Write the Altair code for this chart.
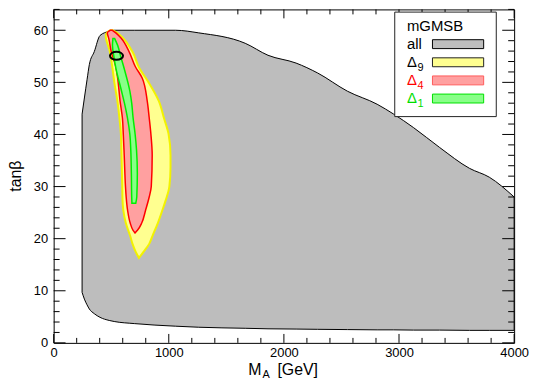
import altair as alt
import pandas as pd

# ---------------- data ----------------
# "all" region: lower / upper tan(beta) boundary versus M_A
all_x = [247, 267, 290, 310, 353, 403, 483, 526, 700, 1060, 1260, 1664, 1862,
         2106, 2293, 2552, 2810, 2954, 3127, 3353, 3612, 3784, 4000]
all_lo = [9.7, 8.4, 7.3, 6.5, 5.6, 4.9, 4.3, 4.1, 3.7, 3.2, 3.0, 2.8, 2.7,
          2.65, 2.6, 2.55, 2.5, 2.5, 2.45, 2.45, 2.4, 2.4, 2.4]
all_hi = [43.9, 47.0, 50.5, 53.4, 55.9, 59.0, 59.8, 60.0, 60.0, 60.0, 59.5, 57.5, 55.2,
          53.7, 51.8, 48.3, 45.8, 43.9, 41.3, 37.5, 33.5, 31.8, 28.0]

# Delta_9 region: left / right M_A boundary versus tan(beta)
d9_y = [16.3, 17.5, 19, 20.5, 23, 25.5, 27.5, 30, 33.7, 36, 40.1, 43, 46.4, 50, 52.7, 55.9, 59.0, 59.7, 60]
d9_l = [741, 712, 685, 665, 627, 605, 598, 596, 592, 589, 584, 572, 554, 527, 511, 488, 452, 470, 495]
d9_r = [741, 782, 830, 858, 905, 945, 975, 1005, 1015, 1015, 998, 960, 914, 825, 745, 684, 580, 540, 515]

# Delta_4 region
d4_y = [21.1, 21.6, 23, 25.5, 28, 30, 36, 40, 43.2, 46.4, 50.8, 53, 55.9, 58.5, 59.5, 60]
d4_l = [707, 690, 665, 642, 630, 624, 613, 605, 597, 577, 556, 540, 500, 478, 466, 490]
d4_r = [707, 728, 765, 799, 830, 848, 856, 845, 830, 813, 770, 710, 655, 585, 540, 510]

# Delta_1 region
d1_y = [26.8, 28, 32.5, 37, 40, 43.2, 46, 48.3, 52.7, 55, 57.1, 58.4]
d1_l = [680, 678, 675, 670, 662, 641, 615, 590, 541, 523, 511, 515]
d1_r = [713, 722, 727, 720, 708, 690, 678, 662, 612, 582, 556, 530]

# best point (ellipse marker)
best_x = [546]
best_y = [55.1]

# axis ticks
x_major = [0, 1000, 2000, 3000, 4000]
x_minor = [200, 400, 600, 800, 1200, 1400, 1600, 1800, 2200, 2400, 2600, 2800,
           3200, 3400, 3600, 3800]
y_major = [0, 10, 20, 30, 40, 50, 60]
y_minor = [2, 4, 6, 8, 12, 14, 16, 18, 22, 24, 26, 28, 32, 34, 36, 38,
           42, 44, 46, 48, 52, 54, 56, 58, 62, 64]

# legend
leg_title = "mGMSB"
leg_items = ["all", "Δ9", "Δ4", "Δ1"]
leg_main = ["all", "Δ", "Δ", "Δ"]
leg_sub = ["", "9", "4", "1"]
leg_text_color = ["#000000", "#000000", "#ff0000", "#00dd00"]

GRAY = "#bdbdbd"
YEL = "#ffff90"
PINK = "#ffa0a0"
GRN = "#88ff88"
leg_fill = [GRAY, YEL, PINK, GRN]
leg_stroke = ["#000000", "#222222", "#ff5a5a", "#00e000"]

x_title_main, x_title_sub, x_title_unit = "M", "A", "[GeV]"
y_title = "tanβ"

# ---------------- chart ----------------
W, H = 464, 336
FONT = "Liberation Sans"

xs = alt.Scale(domain=[0, 4000], nice=False, zero=False)
ys = alt.Scale(domain=[0, 64], nice=False, zero=False)
xaxis = alt.Axis(values=x_major, format="d", labelFont=FONT, labelFontSize=13,
                 labelColor="black", labelPadding=4, labelFlush=False,
                 labelOverlap=False, domain=False, ticks=False, grid=False, title=None)
yaxis = alt.Axis(values=y_major, format="d", labelFont=FONT, labelFontSize=13,
                 labelColor="black", labelPadding=6, labelOverlap=False,
                 domain=False, ticks=False, grid=False, title=None)


def X(f):
    return alt.X(f, type="quantitative", scale=xs, axis=xaxis)


def Y(f):
    return alt.Y(f, type="quantitative", scale=ys, axis=yaxis)


df_all = pd.DataFrame({"x": all_x, "lo": all_lo, "hi": all_hi})
df9 = pd.DataFrame({"y": d9_y, "l": d9_l, "r": d9_r})
df4 = pd.DataFrame({"y": d4_y, "l": d4_l, "r": d4_r})
df1 = pd.DataFrame({"y": d1_y, "l": d1_l, "r": d1_r})
df_best = pd.DataFrame({"x": best_x, "y": best_y})

gray = alt.Chart(df_all).mark_area(
    fill=GRAY, stroke="black", strokeWidth=1, interpolate="monotone"
).encode(x=X("x"), y=Y("lo"), y2="hi")


def region(df, fill, stroke, sw):
    return alt.Chart(df).mark_area(
        orient="horizontal", interpolate="monotone", fill=fill, stroke=stroke,
        strokeWidth=sw
    ).encode(y=Y("y"), x=X("l"), x2="r")


yellow = region(df9, YEL, "#f2f200", 2)
red = region(df4, PINK, "#ff0000", 1.5)
green = region(df1, GRN, "#00ee00", 1.5)

ELL = "M-1,0A1,0.6 0 1,1 1,0A1,0.6 0 1,1 -1,0Z"
best = alt.Chart(df_best).mark_point(
    shape=ELL, size=175, filled=False, color="black", strokeWidth=2, opacity=1
).encode(x=X("x"), y=Y("y"))


def xticks(vals, length):
    d = pd.DataFrame({"v": vals})
    b = alt.Chart(d).mark_rule(color="black", strokeWidth=1).encode(
        x=X("v"), y=alt.value(H), y2=alt.value(H - length))
    t = alt.Chart(d).mark_rule(color="black", strokeWidth=1).encode(
        x=X("v"), y=alt.value(0), y2=alt.value(length))
    return [b, t]


def yticks(vals, length):
    d = pd.DataFrame({"v": vals})
    l = alt.Chart(d).mark_rule(color="black", strokeWidth=1).encode(
        y=Y("v"), x=alt.value(0), x2=alt.value(length))
    r = alt.Chart(d).mark_rule(color="black", strokeWidth=1).encode(
        y=Y("v"), x=alt.value(W), x2=alt.value(W - length))
    return [l, r]


ticks = xticks(x_major, 9) + xticks(x_minor, 5) + yticks(y_major, 12) + yticks(y_minor, 6)


def label(txt, x, y, size, angle=0, align="left", baseline="alphabetic"):
    return alt.Chart(pd.DataFrame({"t": [txt]})).mark_text(
        font=FONT, fontSize=size, color="black", align=align, baseline=baseline,
        angle=angle
    ).encode(text="t:N", x=alt.value(x), y=alt.value(y))


titles = [
    label(x_title_main, 196, 368, 16),
    label(x_title_sub, 210.5, 371, 11),
    label(x_title_unit, 225.5, 368, 16),
    label(y_title, -37.5, 168, 16, angle=270, align="center", baseline="middle"),
]

main = alt.layer(gray, yellow, red, green, best, *ticks, *titles)

# ---------------- legend ----------------
df_leg = pd.DataFrame({"item": leg_items, "main": leg_main, "sub": leg_sub,
                       "tc": leg_text_color, "fill": leg_fill, "stroke": leg_stroke})
LY = alt.Y("item:N", scale=alt.Scale(type="point", domain=leg_items, range=[35, 89.8], padding=0),
           axis=None)

box = alt.Chart(pd.DataFrame({"a": [0]})).mark_rect(
    fill="white", stroke="#222222", strokeWidth=1
).encode(x=alt.value(343.7), x2=alt.value(446), y=alt.value(2.7), y2=alt.value(108))

ltitle = label(leg_title, 356, 21.5, 15)

ltext = alt.Chart(df_leg).mark_text(
    font=FONT, fontSize=15, align="left", baseline="alphabetic", dy=4.5
).encode(text="main:N", y=LY, x=alt.value(356), color=alt.Color("tc:N", scale=None))

lsub = alt.Chart(df_leg).mark_text(
    font=FONT, fontSize=11, align="left", baseline="alphabetic", dy=8.5
).encode(text="sub:N", y=LY, x=alt.value(366.5), color=alt.Color("tc:N", scale=None))

RECT = "M-1,-0.174L1,-0.174L1,0.174L-1,0.174Z"
lsw = alt.Chart(df_leg).mark_point(
    shape=RECT, size=2663, filled=True, strokeWidth=1, opacity=1
).encode(y=LY, x=alt.value(407.5),
         fill=alt.Fill("fill:N", scale=None),
         stroke=alt.Stroke("stroke:N", scale=None))

legend = alt.layer(box, ltitle, ltext, lsub, lsw)

chart = alt.layer(main, legend).resolve_scale(y="independent").properties(
    width=W, height=H, autosize="none",
    padding={"left": 46, "top": 0, "right": 18, "bottom": 38},
    background="white",
).configure_view(stroke="black", strokeWidth=1)

chart.save("out.html", embed_options={"renderer": "svg", "actions": False})
